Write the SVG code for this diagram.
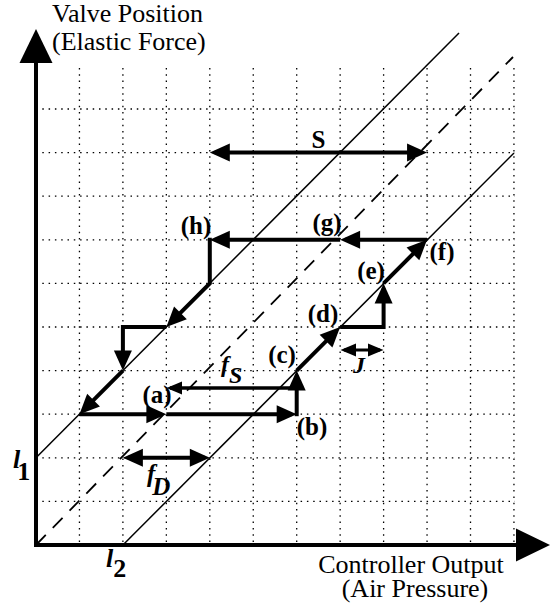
<svg xmlns="http://www.w3.org/2000/svg" width="550" height="605" viewBox="0 0 550 605">
<style>
.grid{stroke:#000;stroke-width:1.3;stroke-dasharray:1.5 4.8;fill:none}
.thin{stroke:#000;stroke-width:1.5;fill:none}
.dash{stroke:#000;stroke-width:1.8;stroke-dasharray:14 10;fill:none}
.axis{stroke:#000;stroke-width:4;fill:none}
.thick{stroke:#000;stroke-width:4;fill:none;stroke-linejoin:miter}
.arr{marker-end:url(#big)}
.dbl{stroke:#000;stroke-width:4;fill:none;marker-start:url(#big);marker-end:url(#big)}
.dbls{stroke:#000;stroke-width:3;fill:none;marker-start:url(#small);marker-end:url(#small)}
.lbl{font-family:"Liberation Serif","Times New Roman",serif;font-weight:bold;font-size:25px;text-anchor:middle;fill:#000}
.ax{font-family:"Liberation Serif","Times New Roman",serif;font-size:26px;fill:#000}
.sym{font-family:"Liberation Serif","Times New Roman",serif;font-weight:bold;font-style:italic;fill:#000}
.up{font-style:normal}
</style>
<defs>
<marker id="big" markerUnits="userSpaceOnUse" markerWidth="20" markerHeight="18" refX="0" refY="0" orient="auto-start-reverse" overflow="visible">
<path d="M-15,-9 L5,0 L-15,9 z" fill="#000"/>
</marker>
<marker id="small" markerUnits="userSpaceOnUse" markerWidth="16" markerHeight="14" refX="0" refY="0" orient="auto-start-reverse" overflow="visible">
<path d="M-12,-6.5 L3.5,0 L-12,6.5 z" fill="#000"/>
</marker>
<marker id="axhead" markerUnits="userSpaceOnUse" markerWidth="38" markerHeight="34" refX="0" refY="0" orient="auto" overflow="visible">
<path d="M0,-16.5 L34,0 L0,16.5 z" fill="#000"/>
</marker>
</defs>

<g id="grid">
<path class="grid" d="M79.45,68V545M122.9,68V545M166.35,68V545M209.8,68V545M253.25,68V545M296.7,68V545M340.15,68V545M383.6,68V545M427.05,68V545M470.5,68V545M513.95,68V545"/>
<path class="grid" d="M36,501.4H515M36,457.8H515M36,414.2H515M36,370.6H515M36,327H515M36,283.4H515M36,239.8H515M36,196.2H515M36,152.6H515M36,109H515"/>
</g>

<g id="characteristic-lines">
<path class="thin" d="M36,457.8 L459,33"/>
<path class="dash" d="M36,545 L513,57"/>
<path class="thin" d="M122.9,545 L514,153"/>
</g>

<g id="axes">
<path class="axis" d="M36,547 V63" marker-end="url(#axhead)"/>
<path class="axis" d="M34,545 H516" marker-end="url(#axhead)"/>
</g>

<g id="connectors">
<path class="thick arr" d="M79.45,414.2 H161.35"/>
<path class="thick arr" d="M166.35,414.2 H291.7"/>
<path class="thick arr" d="M296.7,416.2 V375.6"/>
<path class="thick arr" d="M296.7,370.6 L336.62,330.54"/>
<path class="thick arr" d="M340.15,327 H383.6 V288.4"/>
<path class="thick arr" d="M383.6,283.4 L423.52,243.34"/>
<path class="thick arr" d="M427.05,239.8 H345.15"/>
<path class="thick arr" d="M340.15,239.8 H214.8"/>
<path class="thick arr" d="M209.8,237.8 V283.4 L169.88,323.46"/>
<path class="thick arr" d="M166.35,327 H122.9 V365.6"/>
<path class="thick arr" d="M122.9,370.6 L82.98,410.66"/>
<path class="dbl" d="M214.8,152.6 H422.05"/>
<path class="dbl" d="M127.9,457.8 H204.8"/>
<path stroke="#000" stroke-width="3.5" fill="none" marker-start="url(#small)" d="M170,388 H296.7"/>
<path class="dbls" d="M344,350 H380"/>
</g>

<g id="labels">
<text class="lbl" x="157" y="403">(a)</text>
<text class="lbl" x="312" y="435">(b)</text>
<text class="lbl" x="282" y="363">(c)</text>
<text class="lbl" x="323" y="322">(d)</text>
<text class="lbl" x="371" y="279">(e)</text>
<text class="lbl" x="442" y="260">(f)</text>
<text class="lbl" x="327" y="231">(g)</text>
<text class="lbl" x="196" y="234">(h)</text>
<text class="lbl" x="318.5" y="148">S</text>
<text class="sym" font-size="24" x="221" y="372">f<tspan dy="11">S</tspan></text>
<text class="sym" font-size="25" x="147" y="482">f<tspan dx="-3" dy="13">D</tspan></text>
<text class="sym" font-size="24" x="359" y="373" text-anchor="middle">J</text>
<text class="sym" font-size="26" x="13" y="468">l<tspan class="up" dx="-3" dy="12">1</tspan></text>
<text class="sym" font-size="26" x="106" y="567">l<tspan class="up" dx="0" dy="10">2</tspan></text>
<text class="ax" x="52" y="22">Valve Position<tspan x="52" dy="28">(Elastic Force)</tspan></text>
<text class="ax" x="411" y="573" text-anchor="middle">Controller Output<tspan x="415" dy="24">(Air Pressure)</tspan></text>
</g>
</svg>
